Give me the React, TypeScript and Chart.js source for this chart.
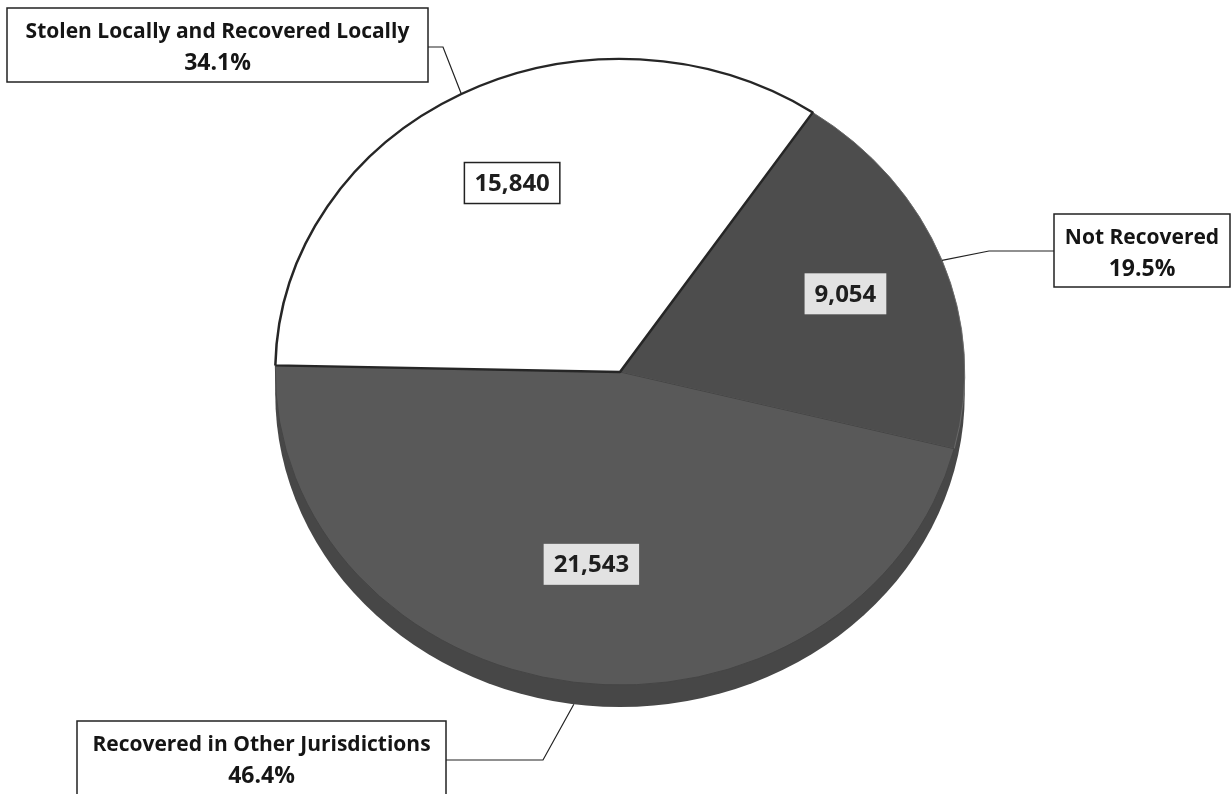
import { useEffect, useRef } from 'react';
import { Chart, registerables } from 'chart.js';

Chart.register(...registerables);

// ---- data ----
const categories = [
  'Not Recovered',
  'Recovered in Other Jurisdictions',
  'Stolen Locally and Recovered Locally',
];
const counts = [9054, 21543, 15840];
const countLabels = ['9,054', '21,543', '15,840'];
const percentLabels = ['19.5%', '46.4%', '34.1%'];

// ---- style ----
const sliceColors = ['#4d4d4d', '#595959', '#ffffff'];
const sliceBorders = ['#6a6a6a', '#444444', '#262626'];
const valueBoxFills = ['#e2e2e2', '#e2e2e2', '#ffffff'];
const labelRadius = [0.7, 0.62, 0.68];
const W = 1231;
const H = 794;
const SQUASH = 0.908;
const RIM = 22;
const FONT = '"Open Sans", "DejaVu Sans", sans-serif';

// callout boxes (annotation layout)
const callouts = [
  { x: 1054, y: 214, w: 176, h: 73, side: 'left', lineY: 251, elbowX: 989 },
  { x: 77, y: 721, w: 369, h: 110, side: 'right', lineY: 760, elbowX: 543 },
  { x: 7, y: 8, w: 421, h: 74, side: 'right', lineY: 47, elbowX: 443 },
];

function edgePoint(cx: number, cy: number, a: number, r: number) {
  return { x: cx + Math.cos(a) * r, y: cy + Math.sin(a) * r * SQUASH };
}

const pie3d = {
  id: 'pie3d',
  beforeDatasetsDraw(chart: any) {
    const arc = chart.getDatasetMeta(0).data[0];
    if (!arc) return;
    const { x, y, outerRadius } = arc;
    const ctx = chart.ctx;
    ctx.save();
    ctx.beginPath();
    ctx.ellipse(x, y + RIM, outerRadius, outerRadius * SQUASH, 0, 0, Math.PI * 2);
    ctx.fillStyle = '#474747';
    ctx.fill();
    ctx.restore();
    ctx.save();
    ctx.translate(x, y);
    ctx.scale(1, SQUASH);
    ctx.translate(-x, -y);
  },
  afterDatasetsDraw(chart: any) {
    const ctx = chart.ctx;
    ctx.restore();
    const meta = chart.getDatasetMeta(0);
    meta.data.forEach((arc: any, i: number) => {
      const { x, y, outerRadius, startAngle, endAngle } = arc;
      const mid = (startAngle + endAngle) / 2;
      // value label
      const p = edgePoint(x, y, mid, outerRadius * labelRadius[i]);
      ctx.save();
      ctx.font = `bold 24px ${FONT}`;
      const tw = ctx.measureText(countLabels[i]).width;
      const bw = tw + 20;
      const bh = 41;
      ctx.fillStyle = valueBoxFills[i];
      ctx.fillRect(p.x - bw / 2, p.y - bh / 2, bw, bh);
      if (i === 2) {
        ctx.strokeStyle = '#222';
        ctx.lineWidth = 1.5;
        ctx.strokeRect(p.x - bw / 2, p.y - bh / 2, bw, bh);
      }
      ctx.fillStyle = '#1e1e1e';
      ctx.textAlign = 'center';
      ctx.textBaseline = 'middle';
      ctx.fillText(countLabels[i], p.x, p.y + 1);
      ctx.restore();

      // callout
      const c = callouts[i];
      let e = edgePoint(x, y, mid, outerRadius);
      if (Math.sin(mid) > 0.5) e = { x: e.x, y: e.y + RIM };
      ctx.save();
      ctx.strokeStyle = '#222';
      ctx.lineWidth = 1.2;
      ctx.beginPath();
      const sx = c.side === 'left' ? c.x : c.x + c.w;
      ctx.moveTo(sx, c.lineY);
      ctx.lineTo(c.elbowX, c.lineY);
      ctx.lineTo(e.x, e.y);
      ctx.stroke();
      ctx.fillStyle = '#ffffff';
      ctx.fillRect(c.x, c.y, c.w, c.h);
      ctx.lineWidth = 1.5;
      ctx.strokeRect(c.x, c.y, c.w, c.h);
      ctx.fillStyle = '#151515';
      ctx.textAlign = 'center';
      ctx.textBaseline = 'middle';
      const tx = c.x + c.w / 2;
      ctx.font = `bold 21px ${FONT}`;
      ctx.fillText(categories[i], tx, c.y + 24);
      ctx.font = `bold 23px ${FONT}`;
      ctx.fillText(percentLabels[i], tx, c.y + 55);
      ctx.restore();
    });
  },
};

export default function App() {
  const ref = useRef<HTMLCanvasElement | null>(null);
  useEffect(() => {
    if (!ref.current) return;
    const chart = new Chart(ref.current, {
      type: 'pie',
      data: {
        labels: categories,
        datasets: [
          {
            data: counts,
            backgroundColor: sliceColors,
            borderColor: sliceBorders,
            borderWidth: [1, 1, 2.5],
          },
        ],
      },
      options: {
        responsive: false,
        animation: false,
        rotation: 34,
        layout: { padding: { left: 274, right: 265, top: 26, bottom: 76 } },
        plugins: {
          legend: { display: false },
          tooltip: { enabled: false },
        },
      },
      plugins: [pie3d],
    });
    return () => chart.destroy();
  }, []);
  return (
    <div style={{ position: 'fixed', left: 0, top: 0, width: W, height: H, background: '#fff' }}>
      <canvas ref={ref} width={W} height={H} style={{ width: W, height: H, display: 'block' }} />
    </div>
  );
}
